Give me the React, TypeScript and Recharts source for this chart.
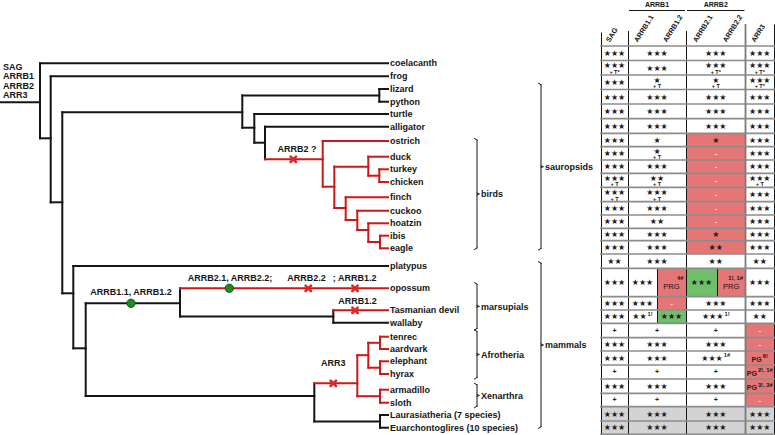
import React from 'react';
import { ComposedChart, XAxis, YAxis, ReferenceLine, ReferenceArea, Scatter } from 'recharts';

const W = 775;
const H = 435;
const FONT = '"Liberation Sans", Arial, Helvetica, sans-serif';
const STAR_FONT = '"DejaVu Sans", sans-serif';
const INK = '#151515';
const RED = '#cc1818';
const MARK_RED = '#e0262a';
const GAIN = '#1f8a24';
const CELL_RED = '#e57675';
const CELL_GREEN = '#6fbf6b';
const CELL_GREY = '#d3d3d3';
const DASH = '#f7e3da';

// genes present at the root
const ROOT_GENES = ['SAG', 'ARRB1', 'ARRB2', 'ARR3'];

// internal nodes: id, parent, depth (x), y, lineage with gene loss
const NODES: [string, string, number, number, number][] = [
  ['root', '', 40, 102.3, 0],
  ['tetrapods', 'root', 50.7, 138.3, 0],
  ['amniotes', 'tetrapods', 62.3, 202.3, 0],
  ['sauropsids', 'amniotes', 242.3, 112.3, 0],
  ['squamates', 'sauropsids', 379.3, 95.4, 0],
  ['archelosaurs', 'sauropsids', 254.3, 127.7, 0],
  ['archosaurs', 'archelosaurs', 265, 142.7, 0],
  ['birds', 'archosaurs', 322.7, 159.3, 1],
  ['neognaths', 'birds', 334.3, 186.7, 1],
  ['galloanserae', 'neognaths', 368.3, 166.7, 1],
  ['galliformes', 'galloanserae', 379.3, 175.7, 1],
  ['neoaves', 'neognaths', 345.7, 208, 1],
  ['neoaves2', 'neoaves', 357.3, 220, 1],
  ['neoaves3', 'neoaves2', 368.3, 230, 1],
  ['raptors', 'neoaves3', 380, 242, 1],
  ['mammals', 'amniotes', 73.3, 293.3, 0],
  ['therians', 'mammals', 85.7, 348.3, 0],
  ['marsupials', 'therians', 180, 303.3, 0],
  ['australidelphia', 'marsupials', 333.3, 316.5, 0],
  ['eutherians', 'therians', 314.3, 396, 0],
  ['atlantogenata', 'eutherians', 357.3, 383.3, 1],
  ['afrotheria', 'atlantogenata', 368.3, 355.2, 1],
  ['afroinsectiphilia', 'afrotheria', 380, 342.8, 1],
  ['paenungulata', 'afrotheria', 380, 367.7, 1],
  ['xenarthra', 'atlantogenata', 380, 396.2, 1],
  ['boreoeutheria', 'eutherians', 380, 421.4, 0],
];

// leaves: name, parent, y, lineage with gene loss
const LEAVES: [string, string, number, number][] = [
  ['coelacanth', 'root', 63.3, 0],
  ['frog', 'tetrapods', 76.3, 0],
  ['lizard', 'squamates', 89, 0],
  ['python', 'squamates', 101.7, 0],
  ['turtle', 'archelosaurs', 114, 0],
  ['alligator', 'archosaurs', 126.7, 0],
  ['ostrich', 'birds', 141, 1],
  ['duck', 'galloanserae', 156.7, 1],
  ['turkey', 'galliformes', 169.3, 1],
  ['chicken', 'galliformes', 182, 1],
  ['finch', 'neoaves', 197.3, 1],
  ['cuckoo', 'neoaves2', 210.7, 1],
  ['hoatzin', 'neoaves3', 223.3, 1],
  ['ibis', 'raptors', 235.7, 1],
  ['eagle', 'raptors', 248.3, 1],
  ['platypus', 'mammals', 266, 0],
  ['opossum', 'marsupials', 288.3, 1],
  ['Tasmanian devil', 'australidelphia', 310.3, 1],
  ['wallaby', 'australidelphia', 322.7, 0],
  ['tenrec', 'afroinsectiphilia', 336.7, 1],
  ['aardvark', 'afroinsectiphilia', 349, 1],
  ['elephant', 'paenungulata', 361.3, 1],
  ['hyrax', 'paenungulata', 374, 1],
  ['armadillo', 'xenarthra', 389.7, 1],
  ['sloth', 'xenarthra', 402.7, 1],
  ['Laurasiatheria (7 species)', 'boreoeutheria', 415, 0],
  ['Euarchontoglires (10 species)', 'boreoeutheria', 427.7, 0],
];

// gains / losses on branches: branch, position along it, kind
const EVENTS: [string, number, string][] = [
  ['birds', 293.3, 'loss'],
  ['marsupials', 131, 'gain'],
  ['opossum', 229.3, 'gain'],
  ['opossum', 308.3, 'loss'],
  ['opossum', 355, 'loss'],
  ['Tasmanian devil', 355, 'loss'],
  ['atlantogenata', 333.3, 'loss'],
];

const EVENT_LABELS: [string, number, number][] = [
  ['ARRB2 ?', 297, 148.7],
  ['ARRB1.1, ARRB1.2', 131, 292.3],
  ['ARRB2.1, ARRB2.2;', 230, 278.3],
  ['ARRB2.2', 306.5, 278.3],
  ['; ARRB1.2', 354.7, 278.3],
  ['ARRB1.2', 357.5, 300.7],
  ['ARR3', 333.3, 363.3],
];

// clade brackets: name, top, bottom, level
const CLADES: [string, number, number, number][] = [
  ['birds', 138.5, 249.5, 0],
  ['marsupials', 282.7, 330, 0],
  ['Afrotheria', 330, 379, 0],
  ['Xenarthra', 383.3, 407.7, 0],
  ['sauropsids', 83.3, 250, 1],
  ['mammals', 261.7, 428.3, 1],
];

const GENE_GROUPS = ['ARRB1', 'ARRB2'];
const GENES = ['SAG', 'ARRB1.1', 'ARRB1.2', 'ARRB2.1', 'ARRB2.2', 'ARR3'];

// one row per leaf: SAG, ARRB1, ARRB2, ARR3 (pairs = paralogs scored apart)
// "L|" lost / pseudogene, "G|" intact copy, "/" note below, "^" superscript
const ROWS: (string | string[])[][] = [
  ['★★★', '★★★', '★★★', '★★★'],
  ['★★★/+ T*', '★★★', '★★★/+ T*', '★★★/+ T*'],
  ['★★★', '★/+ T', '★/+ T', '★★★/+ T*'],
  ['★★★', '★★★', '★★★', '★★★'],
  ['★★★', '★★★', '★★★', '★★★'],
  ['★★★', '★★★', '★★★', '★★★'],
  ['★★★', '★', 'L|★', '★★★'],
  ['★★★', '★/+ T', 'L|-', '★★★'],
  ['★★★', '★★★', 'L|-', '★★★'],
  ['★★★/+ T', '★★/+ T', 'L|-', '★★★/+ T'],
  ['★★★/+ T', '★★★/+ T', 'L|-', '★★★'],
  ['★★★', '★★★', 'L|-', '★★★'],
  ['★★★', '★★', 'L|-', '★★★'],
  ['★★★', '★★★', 'L|★', '★★★'],
  ['★★★', '★★★', 'L|★★', '★★★'],
  ['★★', '★★★', '★★', '★★'],
  ['★★★', ['★★★', 'L|PRG^4#'], ['G|★★★', 'L|PRG^1!, 1#'], '★★★'],
  ['★★★', ['★★★', 'L|-'], '★★★', '★★★'],
  ['★★★', ['★★^1!', 'G|★★★'], '★★★^1!', '★★'],
  ['+', '+', '+', 'L|-'],
  ['★★★', '★★★', '★★★', 'L|-'],
  ['★★★', '★★★', '★★★^1#', 'L|PG^6!'],
  ['+', '+', '+', 'L|PG^2!, 1#'],
  ['★★★', '★★★', '★★★', 'L|PG^3!, 3#'],
  ['+', '+', '+', 'L|-'],
  ['★★★', '★★★', '★★★', '★★★'],
  ['★★★', '★★★', '★★★', '★★★'],
];

// layout
const LEAF_END = 388;
const BRACKET_X = [477, 541];
const COL_EDGES = [601, 628, 657, 686, 717, 745.5, 774];
const ROW_EDGES = [46, 60.5, 75, 89.5, 104, 118.7, 133.3, 146.7, 160, 173.3, 187.3, 201.7, 215, 228.3,
  240.7, 254, 268.3, 296.7, 310, 323.3, 337.7, 351, 365, 379, 393.3, 406.7, 421, 434.3];

type Seg = { x1: number; y1: number; x2: number; y2: number; c: string; w: number };
const segs: Seg[] = [];
const areas: { x1: number; x2: number; y1: number; y2: number; fill: string }[] = [];
const texts: any[] = [];
const T = (x: number, y: number, t: string, o: any = {}) => texts.push({ x, y, t, ...o });

// ---- tree
const nodeMap: Record<string, { x: number; y: number; lost: number }> = {};
NODES.forEach(([id, , x, y, lost]) => (nodeMap[id] = { x, y, lost }));
const leafMap: Record<string, number> = {};
LEAVES.forEach(([name, , y]) => (leafMap[name] = y));

const root = nodeMap.root;
segs.push({ x1: 0, y1: root.y, x2: root.x, y2: root.y, c: INK, w: 2 });
NODES.forEach(([id, parent, x, y, lost]) => {
  if (parent) segs.push({ x1: nodeMap[parent].x, y1: y, x2: x, y2: y, c: lost ? RED : INK, w: 2 });
  const ys = [
    ...NODES.filter((n) => n[1] === id).map((n) => n[3]),
    ...LEAVES.filter((l) => l[1] === id).map((l) => l[2]),
  ];
  segs.push({ x1: x, y1: Math.min(...ys), x2: x, y2: Math.max(...ys), c: lost ? RED : INK, w: 2 });
});
LEAVES.forEach(([name, parent, y, lost]) => {
  segs.push({ x1: nodeMap[parent].x, y1: y, x2: LEAF_END, y2: y, c: lost ? RED : INK, w: 2 });
  T(LEAF_END + 2, y, name, { size: 9, bold: true, anchor: 'start' });
});

ROOT_GENES.forEach((g, i) => T(3, 66.7 + 9.45 * i, g, { size: 9, bold: true, anchor: 'start' }));
EVENT_LABELS.forEach(([t, x, y]) => T(x, y, t, { size: 9, bold: true }));

const marks = EVENTS.map(([branch, x, kind]) => ({
  x,
  y: nodeMap[branch] ? nodeMap[branch].y : leafMap[branch],
  kind,
}));

// ---- clade brackets
CLADES.forEach(([name, top, bottom, level]) => {
  const bx = BRACKET_X[level];
  const mid = (top + bottom) / 2;
  segs.push({ x1: bx - 2.5, y1: top, x2: bx, y2: top + 1.5, c: INK, w: 1 });
  segs.push({ x1: bx, y1: top + 1.5, x2: bx, y2: bottom - 1.5, c: INK, w: 1 });
  segs.push({ x1: bx, y1: bottom - 1.5, x2: bx - 2.5, y2: bottom, c: INK, w: 1 });
  segs.push({ x1: bx, y1: mid - 1, x2: bx + 2, y2: mid, c: INK, w: 1 });
  segs.push({ x1: bx + 2, y1: mid, x2: bx, y2: mid + 1, c: INK, w: 1 });
  T(bx + 4, mid, name, { size: 9, bold: true, anchor: 'start' });
});

// ---- table header
GENE_GROUPS.forEach((g, i) => {
  const a = COL_EDGES[1 + 2 * i];
  const b = COL_EDGES[3 + 2 * i];
  T((a + b) / 2, 4.5, g, { size: 7, bold: true });
  segs.push({ x1: a + 1.5, y1: 10.5, x2: b - 1.5, y2: 10.5, c: INK, w: 1 });
});
GENES.forEach((g, i) => {
  const c = (COL_EDGES[i] + COL_EDGES[i + 1]) / 2;
  T(c - 7, 41.5, g, { size: 7.2, bold: true, anchor: 'start', rot: -58 });
});
const vline = (x: number, y1: number, y2: number) => {
  const grey = x === COL_EDGES[5];
  segs.push({ x1: grey ? x : x + 0.5, y1, x2: grey ? x : x + 0.5, y2, c: grey ? '#7a7a7a' : INK, w: grey ? 1.8 : 1 });
};
[[601, 33], [628, 31.5], [686, 31.5], [745.5, 25], [774, 25]].forEach(([x, y0]) => vline(x, y0, ROW_EDGES[0]));

// ---- table body
const grouped = (name: string) => name.includes('species');
const addCell = (raw: string, x1: number, x2: number, y1: number, y2: number, grey: boolean) => {
  let s = raw;
  let status = '';
  if (s[1] === '|') {
    status = s[0];
    s = s.slice(2);
  }
  const fill = status === 'L' ? CELL_RED : status === 'G' ? CELL_GREEN : grey ? CELL_GREY : '';
  if (fill) areas.push({ x1, x2, y1, y2, fill });
  const [body, sub] = s.split('/');
  const [main, sup] = body.split('^');
  const cx = (x1 + x2) / 2;
  const cy = (y1 + y2) / 2;
  if (main === 'PRG') {
    T(cx, cy + 3.5, main, { size: 7.5 });
    T(x2 - 2.5, cy - 4.5, sup, { size: 5.8, bold: true, anchor: 'end' });
    return;
  }
  const star = main.includes('★');
  const my = sub ? cy - 2.5 : main === 'PG' ? cy + 1.5 : cy;
  T(cx, my, main, {
    size: star ? 8 : main === '-' ? 8 : 7,
    font: star ? STAR_FONT : FONT,
    bold: !star,
    fill: main === '-' ? DASH : '#202020',
    sup,
  });
  if (sub) T(cx, cy + 4.2, sub, { size: 5.5, bold: true });
};

ROWS.forEach((row, r) => {
  const y1 = ROW_EDGES[r];
  const y2 = ROW_EDGES[r + 1];
  const grey = grouped(LEAVES[r][0]);
  const edges = [COL_EDGES[0], COL_EDGES[1], COL_EDGES[3], COL_EDGES[5], COL_EDGES[6]];
  addCell(row[0] as string, COL_EDGES[0], COL_EDGES[1], y1, y2, grey);
  [1, 2].forEach((g) => {
    const a = COL_EDGES[2 * g - 1];
    const m = COL_EDGES[2 * g];
    const b = COL_EDGES[2 * g + 1];
    const v = row[g];
    if (Array.isArray(v)) {
      addCell(v[0], a, m, y1, y2, grey);
      addCell(v[1], m, b, y1, y2, grey);
      edges.push(m);
    } else addCell(v, a, b, y1, y2, grey);
  });
  addCell(row[3] as string, COL_EDGES[5], COL_EDGES[6], y1, y2, grey);
  edges.forEach((x) => vline(x, y1, y2));
});
ROW_EDGES.forEach((y) => segs.push({ x1: COL_EDGES[0], y1: y, x2: COL_EDGES[6] + 1, y2: y, c: '#8c8c8c', w: 1.7 }));

const renderText = (p: any) => {
  const d = p.payload;
  const { cx, cy } = p;
  return (
    <text
      x={cx}
      y={cy}
      dy="0.35em"
      fontSize={d.size}
      fontWeight={d.bold ? 'bold' : 'normal'}
      fontFamily={d.font || FONT}
      textAnchor={d.anchor || 'middle'}
      fill={d.fill || INK}
      transform={d.rot ? `rotate(${d.rot} ${cx} ${cy})` : undefined}
    >
      {d.t}
      {d.sup ? (
        <tspan dx={1} dy={-3.5} fontSize={5.8} fontFamily={FONT} fontWeight="bold" fill={INK}>
          {d.sup}
        </tspan>
      ) : null}
    </text>
  );
};

const renderMark = (p: any) => {
  const { cx, cy, payload } = p;
  if (payload.kind === 'gain') {
    return <circle cx={cx} cy={cy} r={4.2} fill={GAIN} stroke="#0b4a0e" strokeWidth={0.8} />;
  }
  const k = 2.7;
  return (
    <g stroke={MARK_RED} strokeWidth={2.6} strokeLinecap="round">
      <line x1={cx - k} y1={cy - k} x2={cx + k} y2={cy + k} />
      <line x1={cx - k} y1={cy + k} x2={cx + k} y2={cy - k} />
    </g>
  );
};

export default function App() {
  return (
    <div style={{ position: 'absolute', left: 0, top: 0, background: '#fff' }}>
      <ComposedChart width={W} height={H} margin={{ top: 0, right: 0, bottom: 0, left: 0 }}>
        <XAxis type="number" dataKey="x" domain={[0, W]} hide allowDataOverflow />
        <YAxis type="number" dataKey="y" domain={[0, H]} reversed hide allowDataOverflow />
        {areas.map((a, i) => (
          <ReferenceArea
            key={`a${i}`}
            x1={a.x1}
            x2={a.x2}
            y1={a.y1}
            y2={a.y2}
            fill={a.fill}
            fillOpacity={1}
            stroke="none"
            ifOverflow="visible"
          />
        ))}
        {segs.map((s, i) => (
          <ReferenceLine
            key={`s${i}`}
            segment={[{ x: s.x1, y: s.y1 }, { x: s.x2, y: s.y2 }]}
            stroke={s.c}
            strokeWidth={s.w}
            strokeLinecap="square"
            ifOverflow="visible"
          />
        ))}
        <Scatter data={marks} shape={renderMark} isAnimationActive={false} />
        <Scatter data={texts} shape={renderText} isAnimationActive={false} />
      </ComposedChart>
    </div>
  );
}
